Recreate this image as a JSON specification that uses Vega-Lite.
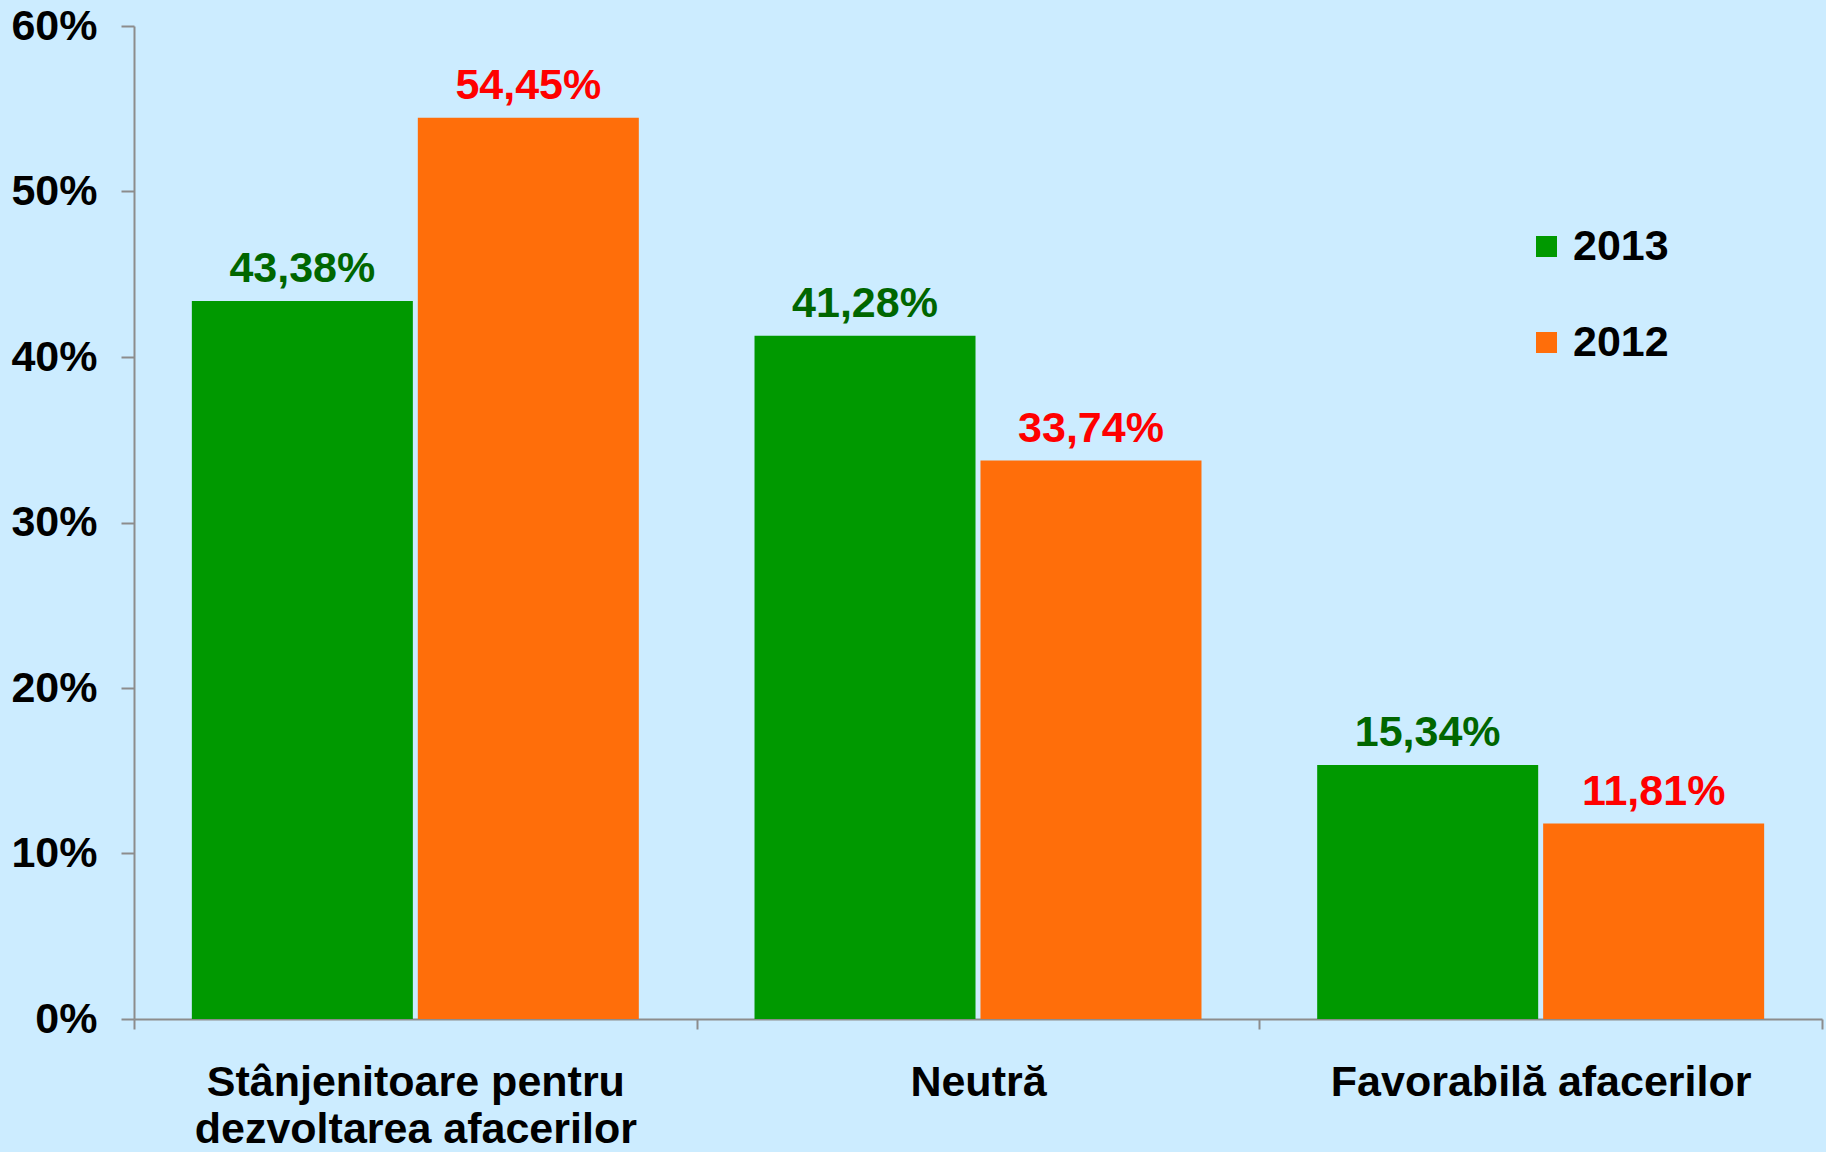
{
  "$schema": "https://vega.github.io/schema/vega-lite/v6.json",
  "width": 1688,
  "height": 993,
  "autosize": {"type": "none"},
  "padding": {"left": 134, "top": 26, "right": 4, "bottom": 133},
  "background": "#CCECFF",
  "config": {
    "view": {"stroke": null},
    "font": "Liberation Sans",
    "locale": {"number": {"decimal": ",", "thousands": ".", "grouping": [3], "currency": ["", " €"]}}
  },
  "data": {
    "values": [
      {"cat": "Stânjenitoare pentru dezvoltarea afacerilor", "year": "2013", "value": 0.4338},
      {"cat": "Stânjenitoare pentru dezvoltarea afacerilor", "year": "2012", "value": 0.5445},
      {"cat": "Neutră", "year": "2013", "value": 0.4128},
      {"cat": "Neutră", "year": "2012", "value": 0.3374},
      {"cat": "Favorabilă afacerilor", "year": "2013", "value": 0.1534},
      {"cat": "Favorabilă afacerilor", "year": "2012", "value": 0.1181}
    ]
  },
  "encoding": {
    "x": {
      "field": "cat",
      "type": "nominal",
      "sort": ["Stânjenitoare pentru dezvoltarea afacerilor", "Neutră", "Favorabilă afacerilor"],
      "scale": {"paddingInner": 0, "paddingOuter": 0},
      "axis": {
        "title": null,
        "labelAngle": 0,
        "domainColor": "#8c8c8c",
        "domainWidth": 2,
        "tickColor": "#8c8c8c",
        "tickWidth": 2,
        "tickSize": 10,
        "tickBand": "extent",
        "labelFontSize": 43,
        "labelFontWeight": "bold",
        "labelColor": "#000000",
        "labelPadding": 32,
        "labelLineHeight": 47,
        "labelLimit": 0,
        "labelExpr": "datum.label == 'Stânjenitoare pentru dezvoltarea afacerilor' ? ['Stânjenitoare pentru', 'dezvoltarea afacerilor'] : datum.label"
      }
    },
    "xOffset": {
      "field": "year",
      "type": "nominal",
      "sort": ["2013", "2012"],
      "scale": {"paddingInner": 0.022, "paddingOuter": 0.256}
    },
    "y": {
      "field": "value",
      "type": "quantitative",
      "scale": {"domain": [0, 0.6], "nice": false},
      "axis": {
        "title": null,
        "values": [0, 0.1, 0.2, 0.3, 0.4, 0.5, 0.6],
        "format": ".0%",
        "grid": false,
        "domainColor": "#8c8c8c",
        "domainWidth": 2,
        "tickColor": "#8c8c8c",
        "tickWidth": 2,
        "tickSize": 13,
        "labelPadding": 24,
        "labelFontSize": 43,
        "labelFontWeight": "bold",
        "labelColor": "#000000"
      }
    }
  },
  "layer": [
    {
      "mark": {"type": "bar"},
      "encoding": {
        "color": {
          "field": "year",
          "type": "nominal",
          "scale": {"domain": ["2013", "2012"], "range": ["#009900", "#FF6E0A"]},
          "legend": {
            "title": null,
            "orient": "none",
            "legendX": 1391,
            "legendY": 199,
            "symbolType": "square",
            "symbolSize": 440,
            "symbolStrokeWidth": 0,
            "labelFontSize": 43,
            "labelFontWeight": "bold",
            "labelColor": "#000000",
            "labelOffset": 5,
            "rowPadding": 52,
            "padding": 0
          }
        }
      }
    },
    {
      "mark": {"type": "text", "baseline": "alphabetic", "dy": -19, "fontSize": 43, "fontWeight": "bold"},
      "encoding": {
        "text": {"field": "value", "type": "quantitative", "format": ".2%"},
        "color": {"condition": {"test": "datum.year === '2013'", "value": "#006600"}, "value": "#FF0000"}
      }
    }
  ]
}
